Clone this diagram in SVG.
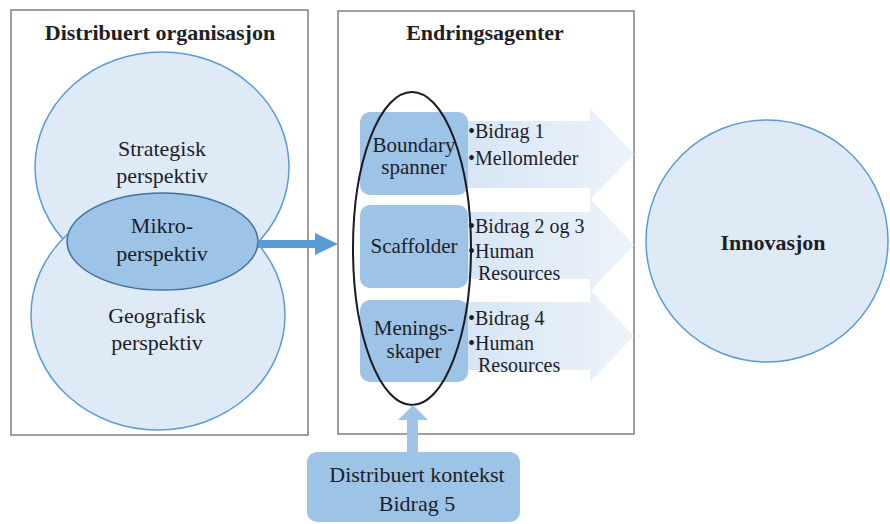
<svg xmlns="http://www.w3.org/2000/svg" width="890" height="524" viewBox="0 0 890 524">
<defs>
<linearGradient id="ga" x1="0" y1="0" x2="1" y2="0">
<stop offset="0" stop-color="#d4e4f4"/>
<stop offset="1" stop-color="#edf3fa"/>
</linearGradient>
<style>
text{font-family:"Liberation Serif","Times New Roman",serif;fill:#1e1e28}
.t{font-size:22px;text-anchor:middle}
.b{font-weight:bold}
.l{font-size:20px}
.frame{fill:#fff;stroke:#7f7f7f;stroke-width:1.5}
.lc{fill:#deebf7;stroke:#5b9bd5;stroke-width:1.5}
.mk{fill:#9dc3e6;stroke:#41719c;stroke-width:1.5}
.rb{fill:#9dc3e6}
.ba{fill:url(#ga)}
</style>
</defs>
<rect width="890" height="524" fill="#fff"/>

<g id="distribuert-organisasjon">
<rect class="frame" x="11" y="10" width="297" height="425"/>
<text class="t b" x="160" y="40">Distribuert organisasjon</text>
</g>
<g id="strategisk">
<ellipse class="lc" cx="162" cy="167" rx="127" ry="115"/>
<text class="t" x="162" y="156">Strategisk</text>
<text class="t" x="162" y="183">perspektiv</text>
</g>
<g id="geografisk">
<ellipse class="lc" cx="158" cy="315" rx="127" ry="115"/>
<text class="t" x="157" y="323">Geografisk</text>
<text class="t" x="157" y="350">perspektiv</text>
</g>
<g id="mikro">
<ellipse class="mk" cx="162.5" cy="241.5" rx="95.5" ry="48.5"/>
<text class="t" x="162" y="233">Mikro-</text>
<text class="t" x="162" y="261">perspektiv</text>
</g>

<g id="endringsagenter">
<rect class="frame" x="338" y="11" width="296" height="423"/>
<text class="t b" x="485" y="40">Endringsagenter</text>
</g>

<g id="bidrag1">
<polygon class="ba" points="445,121 590,121 590,108 634,154 590,200 590,188 445,188"/>
<text class="l" x="468" y="138">•Bidrag 1</text>
<text class="l" x="468" y="165">•Mellomleder</text>
</g>
<g id="bidrag23">
<polygon class="ba" points="445,212 590,212 590,199 634,245 590,291 590,279 445,279"/>
<text class="l" x="468" y="233">•Bidrag 2 og 3</text>
<text class="l" x="468" y="258">•Human</text>
<text class="l" x="478" y="280">Resources</text>
</g>
<g id="bidrag4">
<polygon class="ba" points="445,302 590,302 590,290 634,336 590,382 590,370 445,370"/>
<text class="l" x="468" y="325">•Bidrag 4</text>
<text class="l" x="468" y="350">•Human</text>
<text class="l" x="478" y="372">Resources</text>
</g>

<g id="boundary-spanner">
<rect class="rb" x="360" y="112" width="108" height="83" rx="10"/>
<text class="t" x="414" y="152" style="font-size:21px">Boundary</text>
<text class="t" x="414" y="174" style="font-size:21px">spanner</text>
</g>
<g id="scaffolder">
<rect class="rb" x="360" y="205" width="108" height="83" rx="10"/>
<text class="t" x="414" y="253" style="font-size:21px">Scaffolder</text>
</g>
<g id="meningsskaper">
<rect class="rb" x="360" y="300" width="108" height="82" rx="10"/>
<text class="t" x="414" y="335" style="font-size:21px">Menings-</text>
<text class="t" x="414" y="358" style="font-size:21px">skaper</text>
</g>

<g id="agent-ring">
<ellipse cx="412" cy="248.5" rx="59" ry="156.5" fill="none" stroke="#1a1a24" stroke-width="2"/>
</g>

<g id="innovasjon">
<ellipse class="lc" cx="767" cy="241" rx="121" ry="121"/>
<text class="t b" x="773" y="250">Innovasjon</text>
</g>

<g id="distribuert-kontekst">
<rect class="rb" x="307" y="452" width="213" height="70" rx="10"/>
<text class="t" x="417" y="482">Distribuert kontekst</text>
<text class="t" x="417" y="511">Bidrag 5</text>
</g>

<g id="connectors">
<polygon fill="#5b9bd5" points="258,240 315,240 315,233 338,244 315,255 315,248 258,248"/>
<polygon fill="#9dc3e6" points="407,452 407,420 398,420 413,405 428,420 418,420 418,452"/>
</g>
</svg>
